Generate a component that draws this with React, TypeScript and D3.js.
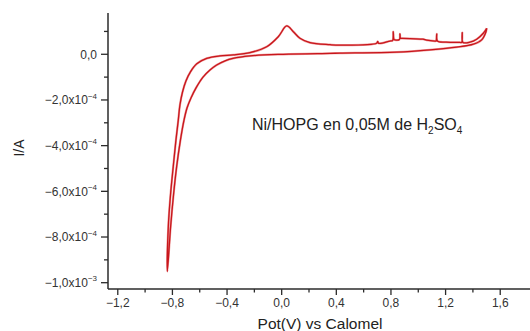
import React from "react";
import * as d3 from "d3";

// Cyclic voltammogram, potential in V, current in units of 1e-4 A
const potential: number[] = [
  // cathodic (lower) branch from 1.5 V to the negative tip
  1.501, 1.496, 1.464, 1.403, 1.281, 1.086, 0.842, 0.427, 0.354, 0.010, -0.232, -0.357,
  -0.415, -0.476, -0.525, -0.576, -0.627, -0.664, -0.693, -0.715, -0.741, -0.769, -0.792,
  -0.813, -0.837,
  // anodic (upper) branch back to 1.5 V
  -0.830, -0.814, -0.794, -0.774, -0.757, -0.745, -0.726, -0.701, -0.668, -0.622, -0.549,
  -0.452, -0.354, -0.232, -0.110, -0.025, 0.037, 0.085, 0.134, 0.207, 0.354, 0.427,
  0.695, 0.703, 0.710, 0.793, 0.812, 0.817, 0.822, 0.829, 0.862, 0.866, 0.870, 0.881,
  1.034, 1.061, 1.122, 1.130, 1.135, 1.140, 1.203, 1.305, 1.318, 1.322, 1.327, 1.378,
  1.428, 1.476, 1.501,
];
const current: number[] = [
  1.14, 0.99, 0.63, 0.44, 0.31, 0.19, 0.09, 0.05, 0.04, 0.00, -0.07, -0.18,
  -0.29, -0.47, -0.69, -1.00, -1.47, -1.91, -2.35, -2.88, -3.75, -4.92, -6.16,
  -7.54, -9.51,
  -7.54, -6.16, -4.92, -3.75, -2.88, -2.22, -1.65, -1.17, -0.77, -0.42, -0.18,
  -0.07, -0.03, 0.07, 0.33, 0.77, 1.24, 0.99, 0.70, 0.51, 0.42, 0.40,
  0.48, 0.56, 0.48, 0.58, 0.60, 0.99, 0.65, 0.63, 0.65, 0.89, 0.70, 0.70,
  0.66, 0.62, 0.58, 0.58, 0.89, 0.58, 0.53, 0.52, 0.52, 0.95, 0.52, 0.53,
  0.66, 0.92, 1.14,
];

const xTicks: number[] = [-1.2, -0.8, -0.4, 0.0, 0.4, 0.8, 1.2, 1.6];
const xTickLabels: string[] = ["\u22121,2", "\u22120,8", "\u22120,4", "0,0", "0,4", "0,8", "1,2", "1,6"];
const xMinorTicks: number[] = [-1.0, -0.6, -0.2, 0.2, 0.6, 1.0, 1.4];

const yTicks: number[] = [0, -2, -4, -6, -8, -10];
const yTickMantissa: string[] = ["0,0", "\u22122,0x10", "\u22124,0x10", "\u22126,0x10", "\u22128,0x10", "\u22121,0x10"];
const yTickExponent: string[] = ["", "\u22124", "\u22124", "\u22124", "\u22124", "\u22123"];
const yMinorTicks: number[] = [1, -1, -3, -5, -7, -9];

const FONT = "'Liberation Sans', Arial, Helvetica, sans-serif";
const AXIS = "#2b2b2b";

export default function App() {
  const W = 530;
  const H = 331;
  const left = 108;
  const right = 530;
  const top = 13;
  const bottom = 289;

  const x = d3.scaleLinear().domain([-1.2716, 1.818]).range([left, right]);
  const y = d3.scaleLinear().domain([-10.276, 1.807]).range([bottom, top]);

  const pts: [number, number][] = potential.map((v, i) => [v, current[i]]);
  const line = d3
    .line<[number, number]>()
    .x((d) => x(d[0]))
    .y((d) => y(d[1]))
    .curve(d3.curveCatmullRom.alpha(0.5));
  const d = line(pts) || "";

  return (
    <svg
      width={W}
      height={H}
      style={{ position: "absolute", left: 0, top: 0, background: "#fff" }}
      fontFamily={FONT}
    >
      <rect x={0} y={0} width={W} height={H} fill="#fff" />
      {/* curve */}
      <path d={d} fill="none" stroke="#e04848" strokeWidth={2.2} strokeLinejoin="round" opacity={0.55} />
      <path d={d} fill="none" stroke="#c8161c" strokeWidth={1.3} strokeLinejoin="round" />

      {/* axes */}
      <line x1={left} x2={left} y1={top} y2={bottom} stroke={AXIS} strokeWidth={1.5} />
      <line x1={left} x2={right} y1={bottom} y2={bottom} stroke={AXIS} strokeWidth={1.5} />

      {/* y ticks */}
      {yTicks.map((t, i) => (
        <g key={"yt" + i}>
          <line x1={left - 7} x2={left} y1={y(t)} y2={y(t)} stroke={AXIS} strokeWidth={1.3} />
          <text x={97} y={y(t) + 4.3} fontSize={12} textAnchor="end" fill="#333">
            {yTickMantissa[i]}
            {yTickExponent[i] ? (
              <tspan fontSize={8} dy={-5.5}>
                {yTickExponent[i]}
              </tspan>
            ) : null}
          </text>
        </g>
      ))}
      {yMinorTicks.map((t, i) => (
        <line key={"ym" + i} x1={left - 4} x2={left} y1={y(t)} y2={y(t)} stroke={AXIS} strokeWidth={1.3} />
      ))}

      {/* x ticks */}
      {xTicks.map((t, i) => (
        <g key={"xt" + i}>
          <line x1={x(t)} x2={x(t)} y1={bottom} y2={bottom + 6} stroke={AXIS} strokeWidth={1.3} />
          <text x={x(t)} y={307} fontSize={12} textAnchor="middle" fill="#333">
            {xTickLabels[i]}
          </text>
        </g>
      ))}
      {xMinorTicks.map((t, i) => (
        <line key={"xm" + i} x1={x(t)} x2={x(t)} y1={bottom} y2={bottom + 3.5} stroke={AXIS} strokeWidth={1.3} />
      ))}

      {/* axis titles */}
      <text x={320} y={328.5} fontSize={15.5} textAnchor="middle" fill="#222">
        Pot(V) vs Calomel
      </text>
      <text transform={`translate(24,148) rotate(-90)`} fontSize={14} textAnchor="middle" fill="#222">
        I/A
      </text>

      {/* annotation */}
      <text x={252} y={130} fontSize={16} fill="#222">
        Ni/HOPG en 0,05M de H
        <tspan fontSize={10} dy={4}>2</tspan>
        <tspan dy={-4}>SO</tspan>
        <tspan fontSize={10} dy={4}>4</tspan>
      </text>
    </svg>
  );
}
